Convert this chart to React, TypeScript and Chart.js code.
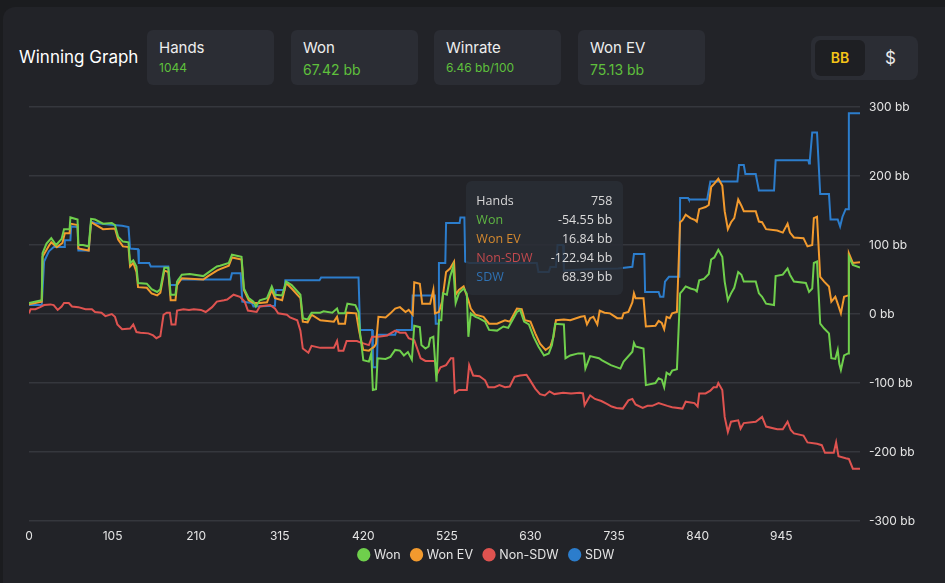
import React, { useEffect, useRef, useState } from "react";
import { Chart, registerables } from "chart.js";

Chart.register(...registerables);

// ---------- data ----------
const seriesNames = ["Won", "Won EV", "Non-SDW", "SDW"];
const seriesColors = ["#6fcf4c", "#f29a2e", "#df5350", "#2c7dcc"];
const tooltipTextColors = ["#5fb743", "#d4892f", "#c24a4e", "#2f72b3"];

const wonHands = [0, 16, 17, 22, 28, 34, 41, 44, 51, 52, 61, 62, 68, 75, 78, 83, 93, 104, 108, 112, 118, 125, 127, 131, 135, 137, 148, 154, 161, 165, 170, 175, 178, 184, 186, 192, 202, 219, 225, 236, 240, 251, 255, 267, 270, 276, 282, 285, 290, 299, 305, 309, 318, 323, 330, 341, 344, 350, 355, 366, 370, 381, 387, 389, 397, 400, 410, 414, 416, 420, 427, 430, 432, 436, 438, 448, 454, 460, 466, 471, 476, 481, 484, 491, 493, 498, 502, 504, 508, 512, 515, 518, 520, 525, 529, 533, 536, 540, 546, 550, 552, 555, 561, 565, 573, 578, 588, 596, 602, 613, 617, 622, 628, 634, 640, 647, 653, 657, 661, 672, 674, 680, 690, 697, 699, 705, 716, 720, 731, 743, 747, 758, 760, 762, 772, 775, 787, 791, 795, 798, 801, 805, 808, 814, 818, 821, 825, 831, 837, 839, 842, 848, 854, 857, 861, 866, 871, 874, 878, 882, 886, 891, 895, 898, 913, 917, 921, 926, 936, 938, 947, 953, 956, 961, 976, 980, 984, 986, 990, 994, 999, 1005, 1008, 1013, 1016, 1018, 1020, 1024, 1029, 1030, 1035, 1044];
const wonValues = [16, 20, 88, 102, 110, 100, 109, 123, 123, 140, 137, 100, 100, 98, 138, 137, 131, 132, 129, 112, 105, 104, 74, 78, 69, 45, 44, 36, 32, 36, 67, 67, 28, 28, 47, 57, 58, 55, 60, 69, 70, 74, 86, 83, 37, 23, 18, 11, 20, 23, 40, 28, 27, 47, 42, 28, -6, -8, 2, 2, 4, 2, 8, 1, 1, 15, 13, 3, -28, -67, -69, -57, -110, -109, -64, -65, -62, -52, -53, -60, -55, -66, -17, -19, -45, -50, -47, -35, -33, -98, -9, -9, 30, 28, 54, 69, 16, 30, 37, 30, -33, 1, -4, -6, -11, -23, -24, -18, -20, 3, 6, -11, -15, -33, -47, -60, -57, -45, -14, -15, -64, -60, -57, -57, -79, -61, -64, -67, -74, -79, -69, -54.55, -42, -47, -50, -103, -100, -93, -95, -106, -85, -88, -82, -80, 30, 34, 40, 37, 35, 33, 49, 51, 58, 79, 82, 93, 83, 47, 20, 30, 38, 61, 57, 47, 47, 30, 25, 15, 13, 55, 57, 66, 57, 47, 45, 32, 37, 74, 76, -14, -21, -28, -64, -65, -52, -72, -81, -60, -57, 83, 71, 67.42];

const wonEvHands = [0, 16, 17, 25, 28, 35, 42, 45, 51, 52, 61, 62, 75, 78, 93, 108, 112, 118, 125, 127, 131, 135, 137, 148, 154, 161, 165, 170, 175, 178, 184, 186, 192, 219, 225, 236, 240, 251, 255, 267, 270, 276, 282, 290, 299, 305, 309, 318, 323, 330, 341, 344, 350, 355, 366, 383, 387, 389, 397, 399, 411, 415, 420, 427, 434, 436, 439, 448, 454, 460, 466, 473, 477, 482, 484, 491, 494, 504, 508, 510, 515, 519, 524, 529, 534, 536, 540, 546, 552, 555, 561, 571, 578, 588, 598, 604, 613, 619, 623, 630, 636, 642, 649, 655, 659, 662, 672, 680, 693, 698, 701, 705, 709, 714, 717, 723, 730, 739, 745, 747, 753, 758, 760, 762, 772, 775, 787, 791, 795, 798, 801, 805, 808, 814, 818, 821, 825, 831, 837, 839, 842, 850, 854, 857, 861, 866, 871, 874, 878, 882, 886, 891, 895, 898, 913, 917, 921, 926, 940, 947, 953, 956, 961, 973, 978, 984, 986, 990, 994, 999, 1005, 1008, 1013, 1016, 1020, 1024, 1029, 1030, 1035, 1044];
const wonEvValues = [14, 18, 83, 99, 104, 97, 103, 117, 117, 131, 129, 95, 92, 133, 123, 124, 108, 98, 97, 69, 74, 61, 39, 38, 30, 27, 31, 63, 61, 20, 20, 42, 52, 50, 55, 63, 65, 70, 82, 79, 35, 20, 16, 16, 17, 35, 23, 20, 45, 37, 23, -11, -12, -1, -9, -11, -4, -14, -14, 2, 1, -26, -52, -53, -47, -43, -4, -5, 1, 8, 10, 3, 6, -1, 46, 44, 15, 15, 35, 1, 3, 18, 61, 66, 76, 28, 35, 40, 20, 8, -1, -4, -14, -14, -9, -11, 8, 7, -9, -11, -28, -43, -52, -47, -33, -9, -8, -9, -4, -3, -15, -6, -4, -15, 5, 2, 1, -6, -6, 1, 3, 16.84, 30, 23, 23, -18, -17, -10, -13, -22, -4, -6, 1, 3, 133, 136, 144, 139, 136, 134, 152, 155, 158, 184, 189, 196, 186, 149, 123, 133, 139, 166, 157, 149, 149, 134, 133, 123, 121, 118, 131, 118, 111, 110, 98, 100, 139, 141, 54, 47, 40, 18, 25, 15, 1, 25, 27, 88, 74, 75.13];

const nonSdwHands = [0, 2, 8, 14, 19, 27, 31, 36, 41, 44, 50, 54, 62, 71, 79, 83, 91, 96, 104, 108, 111, 117, 127, 131, 135, 140, 150, 156, 160, 165, 169, 173, 177, 179, 184, 186, 194, 201, 207, 216, 222, 230, 236, 245, 249, 257, 265, 271, 275, 286, 290, 303, 309, 313, 324, 328, 337, 341, 344, 351, 355, 366, 383, 387, 389, 395, 399, 412, 416, 427, 431, 439, 450, 460, 466, 473, 477, 484, 492, 498, 510, 513, 517, 524, 530, 533, 535, 540, 550, 553, 558, 566, 573, 577, 585, 591, 598, 604, 610, 617, 625, 629, 636, 642, 648, 654, 660, 671, 681, 692, 696, 698, 705, 711, 719, 726, 732, 738, 746, 753, 758, 762, 771, 777, 783, 791, 802, 808, 821, 825, 836, 840, 842, 850, 856, 860, 864, 866, 871, 874, 878, 882, 891, 894, 898, 913, 921, 926, 940, 947, 953, 957, 961, 973, 978, 990, 996, 1000, 1011, 1014, 1017, 1026, 1030, 1035, 1044];
const nonSdwValues = [1, 7, 7, 10, 13, 14, 13, 6, 11, 16, 16, 11, 10, 7, 7, 3, 2, -3, 0, -4, -15, -22, -21, -15, -26, -27, -28, -31, -35, -32, -1, 2, 2, -15, -15, 5, 7, 6, 7, 6, 3, 10, 18, 20, 21, 28, 25, 18, 5, 3, 11, 13, 8, 1, -1, -5, -9, -24, -50, -56, -46, -49, -49, -39, -53, -53, -39, -39, -41, -45, -33, -33, -31, -24, -27, -27, -35, -38, -64, -68, -68, -86, -77, -74, -64, -64, -114, -110, -110, -74, -89, -90, -96, -106, -106, -103, -106, -105, -91, -89, -88, -95, -108, -116, -118, -112, -116, -114, -115, -114, -115, -132, -118, -123, -126, -130, -134, -136, -137, -125, -122.94, -131, -136, -133, -133, -129, -133, -135, -137, -127, -129, -134, -115, -115, -111, -106, -106, -100, -110, -149, -171, -156, -154, -166, -158, -156, -149, -163, -167, -167, -156, -168, -173, -176, -186, -188, -190, -201, -201, -186, -206, -209, -210, -224, -224];

const sdwHands = [0, 16, 19, 25, 31, 44, 45, 52, 53, 61, 62, 75, 78, 83, 106, 117, 125, 127, 137, 138, 151, 153, 175, 177, 186, 188, 253, 255, 266, 268, 280, 282, 309, 310, 321, 322, 365, 367, 414, 416, 431, 432, 437, 438, 460, 462, 481, 482, 510, 511, 514, 515, 523, 524, 541, 542, 547, 548, 553, 638, 640, 653, 655, 662, 664, 671, 672, 700, 740, 758, 760, 773, 774, 791, 793, 797, 799, 804, 817, 818, 828, 829, 852, 856, 890, 892, 898, 900, 913, 917, 936, 938, 979, 980, 981, 984, 990, 994, 1005, 1007, 1016, 1019, 1022, 1026, 1029, 1030, 1044];
const sdwValues = [13, 13, 76, 91, 97, 97, 107, 107, 127, 126, 92, 92, 134, 132, 129, 128, 126, 95, 94, 74, 74, 69, 69, 42, 42, 50, 50, 59, 59, 18, 16, 11, 12, 35, 35, 49, 49, 53, 53, -23, -23, -77, -77, -30, -30, -23, -23, 27, 27, -14, -14, 74, 74, 132, 132, 140, 140, 76, 74, 74, 61, 61, 68, 68, 100, 100, 63, 65, 66, 68.39, 87, 87, 32, 32, 25, 25, 47, 54, 54, 168, 168, 166, 166, 192, 192, 216, 216, 203, 203, 179, 179, 223, 223, 218, 223, 263, 263, 174, 174, 137, 137, 127, 141, 152, 152, 291, 291];

const seriesHands = [wonHands, wonEvHands, nonSdwHands, sdwHands];
const seriesValues = [wonValues, wonEvValues, nonSdwValues, sdwValues];

const totalHands = 1044;
const xTickValues = [0, 105, 210, 315, 420, 525, 630, 735, 840, 945];
const yTickValues = [-300, -200, -100, 0, 100, 200, 300];
const tooltipHand = 758;

const statLabels = ["Hands", "Won", "Winrate", "Won EV"];
const statValues = ["1044", "67.42 bb", "6.46 bb/100", "75.13 bb"];
const statValueSizes = [12, 14, 12, 14];
const statLefts = [147, 291, 434, 578];

const FONT = "Inter, 'Noto Sans', sans-serif";

const legendNudge = {
  id: "legendNudge",
  afterLayout(chart: any) {
    const lg = chart.legend;
    if (lg) {
      lg.top -= 7;
      lg.bottom -= 7;
    }
  },
};

export default function App() {
  const canvasRef = useRef<HTMLCanvasElement | null>(null);
  const [tipX, setTipX] = useState<number | null>(null);

  useEffect(() => {
    document.body.style.margin = "0";
    const canvas = canvasRef.current;
    if (!canvas) return;
    Chart.defaults.font.family = FONT;
    const chart = new Chart(canvas, {
      type: "line",
      data: {
        datasets: seriesNames.map((name, i) => ({
          label: name,
          data: seriesHands[i].map((h, j) => ({ x: h, y: seriesValues[i][j] })),
          borderColor: seriesColors[i],
          backgroundColor: seriesColors[i],
          borderWidth: 2,
          pointRadius: 0,
          pointHoverRadius: 0,
          tension: 0,
          fill: false,
        })),
      },
      plugins: [legendNudge],
      options: {
        animation: false,
        responsive: true,
        maintainAspectRatio: false,
        layout: { padding: { left: 29, right: 0, top: 12, bottom: 0 } },
        plugins: {
          tooltip: { enabled: false },
          legend: {
            position: "bottom",
            labels: {
              usePointStyle: true,
              pointStyle: "circle",
              boxWidth: 8,
              boxHeight: 8,
              padding: 12,
              color: "#e4e4e4",
              font: { size: 12.5, family: FONT },
            },
          },
        },
        scales: {
          x: {
            type: "linear",
            min: 0,
            max: totalHands,
            grid: { display: false },
            border: { display: false },
            afterBuildTicks: (s: any) => {
              s.ticks = xTickValues.map((v) => ({ value: v }));
            },
            ticks: {
              color: "#e4e4e4",
              padding: 0,
              maxRotation: 0,
              autoSkip: false,
              font: { size: 12, family: FONT },
              callback: (v: any) => String(v),
            },
          },
          y: {
            position: "right",
            min: yTickValues[0],
            max: yTickValues[yTickValues.length - 1],
            grid: { color: "#35373d", lineWidth: 1.5, drawTicks: true, tickLength: 9, tickColor: "rgba(0,0,0,0)" },
            border: { display: false },
            afterBuildTicks: (s: any) => {
              s.ticks = yTickValues.map((v) => ({ value: v }));
            },
            ticks: {
              color: "#e4e4e4",
              padding: 0,
              font: { size: 12, family: FONT },
              callback: (v: any) => `${v} bb`,
            },
            afterFit: (s: any) => {
              s.width = 85;
            },
          },
        },
      },
    });
    setTipX(chart.scales.x.getPixelForValue(tooltipHand));
    return () => chart.destroy();
  }, []);

  const tipRows = seriesNames.map((name, i) => {
    const idx = seriesHands[i].indexOf(tooltipHand);
    return { name, color: tooltipTextColors[i], value: `${seriesValues[i][idx].toFixed(2)} bb` };
  });

  const tipWidth = 157;

  return (
    <div style={{ position: "fixed", left: 0, top: 0, width: 945, height: 583, background: "#1b1c1f", overflow: "hidden", fontFamily: FONT }}>
      <div style={{ position: "absolute", left: 3, top: 7, width: 960, height: 600, background: "#222328", borderRadius: 12 }} />
      <div style={{ position: "absolute", left: 19, top: 47, color: "#ffffff", fontSize: 17, lineHeight: "20px", whiteSpace: "nowrap" }}>Winning Graph</div>
      {statLabels.map((label, i) => (
        <div key={label} style={{ position: "absolute", left: statLefts[i], top: 30, width: 127, height: 55, background: "#2b2d34", borderRadius: 6 }}>
          <div style={{ position: "absolute", left: 12, top: 9, color: "#eeeeee", fontSize: 15, lineHeight: "18px", whiteSpace: "nowrap" }}>{label}</div>
          <div style={{ position: "absolute", left: 12, top: statValueSizes[i] === 14 ? 31 : 29, color: "#5fc03c", fontSize: statValueSizes[i], lineHeight: "18px", whiteSpace: "nowrap" }}>{statValues[i]}</div>
        </div>
      ))}
      <div style={{ position: "absolute", left: 811, top: 36, width: 107, height: 44, background: "#2b2d34", borderRadius: 8 }}>
        <div style={{ position: "absolute", left: 4, top: 4, width: 50, height: 36, background: "#1e1f23", borderRadius: 6, color: "#f5c518", fontSize: 14, fontWeight: 600, lineHeight: "36px", textAlign: "center" }}>BB</div>
        <div style={{ position: "absolute", left: 57, top: 4, width: 45, height: 36, color: "#e8e8e8", fontSize: 17, lineHeight: "36px", textAlign: "center" }}>$</div>
      </div>
      <div style={{ position: "absolute", left: 0, top: 95, width: 945, height: 483 }}>
        <canvas ref={canvasRef} />
        {tipX !== null && (
          <div style={{ position: "absolute", left: tipX - 9 - tipWidth, top: 86, width: tipWidth, height: 114, background: "rgba(42,45,53,0.86)", borderRadius: 6, fontFamily: "'Open Sans', sans-serif", fontSize: 12.5, boxSizing: "border-box", padding: "10px 11px 0 10px" }}>
            <div style={{ display: "flex", justifyContent: "space-between", height: 19, lineHeight: "19px", color: "#d8d8d8" }}>
              <span>Hands</span>
              <span>{tooltipHand}</span>
            </div>
            {tipRows.map((r) => (
              <div key={r.name} style={{ display: "flex", justifyContent: "space-between", height: 19, lineHeight: "19px" }}>
                <span style={{ color: r.color }}>{r.name}</span>
                <span style={{ color: "#dcdcdc" }}>{r.value}</span>
              </div>
            ))}
          </div>
        )}
      </div>
    </div>
  );
}
